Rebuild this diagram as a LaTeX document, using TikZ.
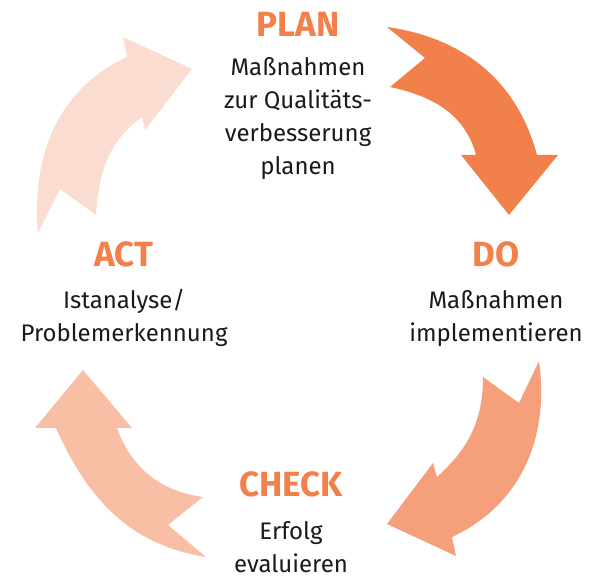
\documentclass[tikz,border=0pt]{standalone}
\usepackage{fontspec}
\setmainfont{Fira Sans}
\definecolor{arancio}{HTML}{F2804A}
\definecolor{scuro}{HTML}{1A1A1A}
\definecolor{frecciaDo}{HTML}{F2804A}
\definecolor{frecciaCheck}{HTML}{F5A07A}
\definecolor{frecciaAct}{HTML}{F8BFA5}
\definecolor{frecciaPlan}{HTML}{FADDD0}

\begin{document}
\begin{tikzpicture}[x=1pt,y=1pt,
    titolo/.style={font=\bfseries\fontsize{35}{35}\selectfont, text=arancio, anchor=base, inner sep=0pt},
    testo/.style={font=\fontsize{24}{33}\selectfont, text=scuro, align=center, anchor=base, inner sep=0pt}]
        \useasboundingbox (0,0) rectangle (598,576);
        % Freccia PLAN -> DO
        \fill[frecciaDo] (387,549) to[out=-8,in=105] (537,421) -- (558,421) -- (509,361)
            -- (461,421) -- (476,421) to[out=105,in=-12] (390,489) -- (425,518) -- cycle;
        % Freccia DO -> CHECK
        \fill[frecciaCheck] (539,215) to[out=-82,in=25] (452,39) -- (456,20) -- (387,52)
            -- (433,113) -- (437,99) to[out=42,in=270] (483,199) -- (519,173) -- cycle;
        % Freccia CHECK -> ACT
        \fill[frecciaAct] (206,19) to[out=171,in=-66] (56,148) -- (35,148) -- (83,206)
            -- (132,148) -- (117,148) to[out=-70,in=172] (203,79) -- (168,51) -- cycle;
        % Freccia ACT -> PLAN
        \fill[frecciaPlan] (38,343) to[out=95,in=205] (127,519) -- (123,539) -- (192,507)
            -- (145,446) -- (142,459) to[out=216,in=86] (96,361) -- (60,387) -- cycle;
        % Titoli
        \node[titolo] (plan) at (298,539) {PLAN};
        \node[titolo] (do) at (496,309) {DO};
        \node[titolo] (check) at (291,79) {CHECK};
        \node[titolo] (act) at (124,309) {ACT};
        % Testi (base = ultima riga)
        \node[testo] (plantxt) at (298,401) {Maßnahmen\\zur Qualitäts-\\verbesserung\\planen};
        \node[testo] (dotxt) at (496,234) {Maßnahmen\\implementieren};
        \node[testo] (checktxt) at (291,3) {Erfolg\\evaluieren};
        \node[testo] (acttxt) at (124,234) {Istanalyse/\\Problemerkennung};
    \end{tikzpicture}
\end{document}
